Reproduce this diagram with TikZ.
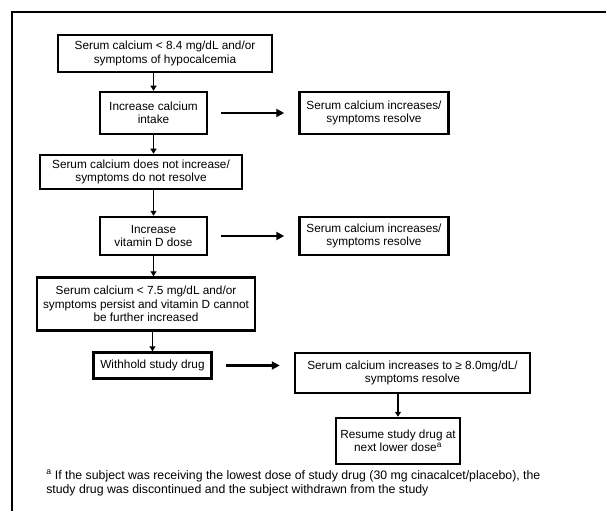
\documentclass[tikz,border=0pt]{standalone}
\usepackage{fontspec}
\setmainfont{Liberation Sans}
\usetikzlibrary{arrows.meta, positioning}

\begin{document}
\begin{tikzpicture}[x=1pt, y=-1pt, line width=2.5pt,
  every node/.style={font=\fontsize{11.8}{13.5}\selectfont},
  box/.style={draw, rectangle, align=center, inner sep=0pt},
  down/.style={-{Triangle[length=5pt, width=6pt]}, line width=1.8pt},
  across/.style={-{Triangle[length=8pt, width=8pt]}, line width=2.4pt, shorten <=13pt, shorten >=14pt}]

  \useasboundingbox (0,0) rectangle (606,511);

  % Frame
  \draw[line width=2pt] (12,511) -- (12,12) -- (606,12);

  % Nodes
  \node[box, minimum width=214pt, minimum height=37pt] (low) at (165,53.5)
    {Serum calcium < 8.4 mg/dL and/or\\symptoms of hypocalcemia};
  \node[box, minimum width=107pt, minimum height=42pt] (intake) at (153.5,113)
    {Increase calcium\\intake};
  \node[box, minimum width=149pt, minimum height=42pt] (okA) [right=90pt of intake]
    {Serum calcium increases/\\symptoms resolve};
  \node[box, minimum width=202pt, minimum height=34pt] (noA) at (141,172)
    {Serum calcium does not increase/\\symptoms do not resolve};
  \node[box, minimum width=107pt, minimum height=38pt] (vitD) at (153.5,236)
    {Increase\\vitamin D dose};
  \node[box, minimum width=149pt, minimum height=38pt] (okB) [right=90pt of vitD]
    {Serum calcium increases/\\symptoms resolve};
  \node[box, minimum width=218pt, minimum height=53pt] (noB) at (146,304)
    {Serum calcium < 7.5 mg/dL and/or\\symptoms persist and vitamin D cannot\\be further increased};
  \node[box, minimum width=118pt, minimum height=26pt] (hold) at (152.5,365.5)
    {Withhold study drug};
  \node[box, minimum width=235pt, minimum height=40pt] (okC) at (412.5,373)
    {Serum calcium increases to ≥ 8.0mg/dL/\\symptoms resolve};
  \node[box, minimum width=124pt, minimum height=46pt] (resume) at (398,441)
    {Resume study drug at\\next lower dose\textsuperscript{a}};

  % Footnote
  \node[anchor=north west, align=left, inner sep=0pt, font=\fontsize{12.3}{14}\selectfont] (note) at (45,469)
    {\textsuperscript{a} If the subject was receiving the lowest dose of study drug (30 mg cinacalcet/placebo), the\\study drug was discontinued and the subject withdrawn from the study};

  % Edges
  \draw[down] (intake.north |- low.south) -- (intake.north);
  \draw[down] (intake.south) -- (intake.south |- noA.north);
  \draw[down] (vitD.north |- noA.south) -- (vitD.north);
  \draw[down] (vitD.south) -- (vitD.south |- noB.north);
  \draw[down] (hold.north |- noB.south) -- (hold.north);
  \draw[down] (resume.north |- okC.south) -- (resume.north);
  \draw[across] (intake) -- (okA);
  \draw[across] (vitD) -- (okB);
  \draw[across] (hold.east) -- (hold.east -| okC.west);

\end{tikzpicture}
\end{document}
